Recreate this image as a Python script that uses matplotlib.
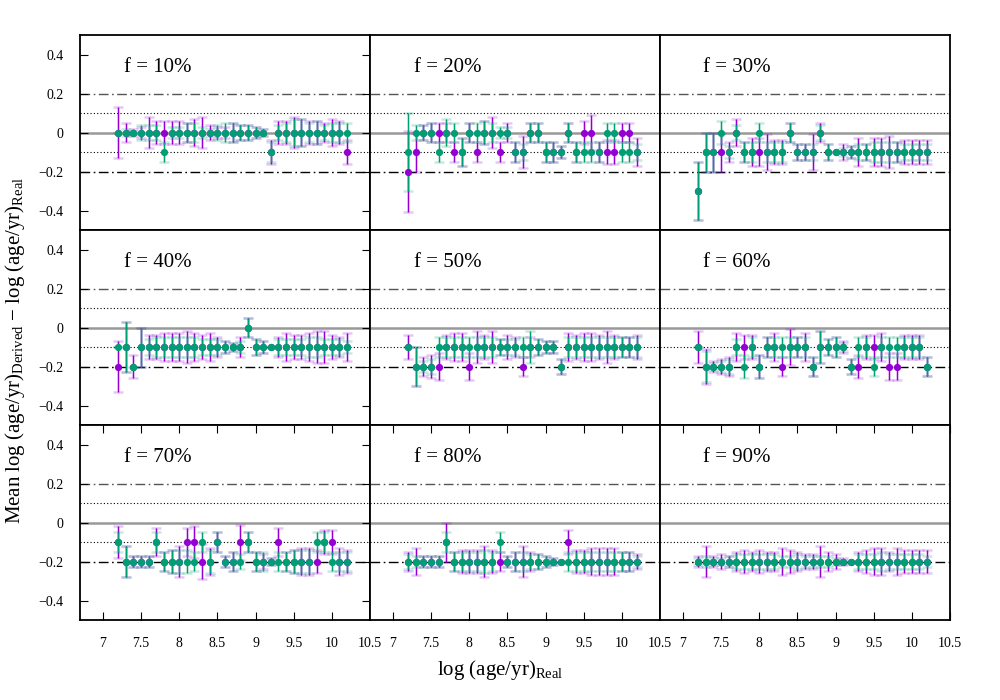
import matplotlib
matplotlib.use("Agg")
import matplotlib.pyplot as plt
import numpy as np

plt.rcParams['font.family'] = ['Liberation Serif', 'DejaVu Serif']
plt.rcParams['mathtext.fontset'] = 'custom'
plt.rcParams['mathtext.rm'] = 'Liberation Serif'

# log(age/yr) real, 7.2 ... 10.2
ages = [7.2, 7.3, 7.4, 7.5, 7.6, 7.7, 7.8, 7.9, 8.0, 8.1, 8.2, 8.3, 8.4, 8.5, 8.6, 8.7,
        8.8, 8.9, 9.0, 9.1, 9.2, 9.3, 9.4, 9.5, 9.6, 9.7, 9.8, 9.9, 10.0, 10.1, 10.2]
fractions = ["10%", "20%", "30%", "40%", "50%", "60%", "70%", "80%", "90%"]

# purple series: mean offsets and errors
p_val_10 = [0, 0, 0, 0, 0, 0, 0, 0, 0, 0, 0, 0, 0, 0, 0, 0, 0, 0, 0, 0, -0.1, 0, 0, 0, 0, 0, 0, 0, 0, 0, -0.1]
p_err_10 = [0.13, 0.05, 0.02, 0.03, 0.08, 0.06, 0.06, 0.06, 0.06, 0.05, 0.07, 0.08, 0.04, 0.03, 0.03, 0.05,
            0.04, 0.04, 0.03, 0.02, 0.06, 0.06, 0.06, 0.08, 0.07, 0.06, 0.06, 0.05, 0.07, 0.06, 0.06]
p_val_20 = [-0.2, -0.1, 0, 0, 0, 0, -0.1, -0.1, 0, -0.1, 0, 0, -0.1, 0, -0.1, -0.1, 0, 0, -0.1, -0.1,
            -0.1, 0, -0.1, 0, 0, -0.1, -0.1, -0.1, 0, 0, -0.1]
p_err_20 = [0.21, 0.1, 0.04, 0.05, 0.05, 0.05, 0.05, 0.07, 0.05, 0.05, 0.06, 0.08, 0.05, 0.05, 0.05, 0.08,
            0.05, 0.05, 0.05, 0.05, 0.03, 0.05, 0.05, 0.06, 0.09, 0.05, 0.06, 0.06, 0.05, 0.05, 0.07]
p_val_30 = [-0.3, -0.1, -0.1, -0.1, -0.1, 0, -0.1, -0.1, -0.1, -0.1, -0.1, -0.1, 0, -0.1, -0.1, -0.1,
            0, -0.1, -0.1, -0.1, -0.1, -0.1, -0.1, -0.1, -0.1, -0.1, -0.1, -0.1, -0.1, -0.1, -0.1]
p_err_30 = [0.15, 0.1, 0.1, 0.1, 0.05, 0.07, 0.05, 0.07, 0.07, 0.09, 0.06, 0.06, 0.05, 0.04, 0.04, 0.09,
            0.05, 0.04, 0.0, 0.04, 0.03, 0.07, 0.04, 0.07, 0.07, 0.08, 0.05, 0.06, 0.06, 0.06, 0.06]
p_val_40 = [-0.2, -0.1, -0.2, -0.1, -0.1, -0.1, -0.1, -0.1, -0.1, -0.1, -0.1, -0.1, -0.1, -0.1, -0.1, -0.1,
            -0.1, 0, -0.1, -0.1, -0.1, -0.1, -0.1, -0.1, -0.1, -0.1, -0.1, -0.1, -0.1, -0.1, -0.1]
p_err_40 = [0.13, 0.13, 0.06, 0.1, 0.06, 0.06, 0.07, 0.07, 0.07, 0.08, 0.07, 0.06, 0.07, 0.05, 0.03, 0.02,
            0.05, 0.05, 0.04, 0.03, 0.0, 0.05, 0.07, 0.06, 0.06, 0.07, 0.08, 0.08, 0.06, 0.05, 0.07]
p_val_50 = [-0.1, -0.2, -0.2, -0.2, -0.2, -0.1, -0.1, -0.1, -0.2, -0.1, -0.1, -0.1, -0.1, -0.1, -0.1, -0.2,
            -0.1, -0.1, -0.1, -0.1, -0.2, -0.1, -0.1, -0.1, -0.1, -0.1, -0.1, -0.1, -0.1, -0.1, -0.1]
p_err_50 = [0.06, 0.1, 0.05, 0.06, 0.07, 0.06, 0.07, 0.07, 0.07, 0.08, 0.06, 0.08, 0.04, 0.06, 0.05, 0.05,
            0.05, 0.04, 0.03, 0.03, 0.04, 0.07, 0.06, 0.07, 0.07, 0.06, 0.08, 0.06, 0.05, 0.05, 0.06]
p_val_60 = [-0.1, -0.2, -0.2, -0.2, -0.2, -0.1, -0.1, -0.1, -0.2, -0.1, -0.1, -0.2, -0.1, -0.1, -0.1, -0.2,
            -0.1, -0.1, -0.1, -0.1, -0.2, -0.2, -0.1, -0.1, -0.1, -0.2, -0.2, -0.1, -0.1, -0.1, -0.2]
p_err_60 = [0.08, 0.09, 0.03, 0.04, 0.05, 0.07, 0.06, 0.06, 0.06, 0.05, 0.07, 0.05, 0.09, 0.05, 0.07, 0.05,
            0.08, 0.04, 0.05, 0.03, 0.04, 0.06, 0.06, 0.06, 0.07, 0.07, 0.07, 0.06, 0.06, 0.06, 0.05]
p_val_70 = [-0.1, -0.2, -0.2, -0.2, -0.2, -0.1, -0.2, -0.2, -0.2, -0.1, -0.1, -0.2, -0.2, -0.1, -0.2, -0.2,
            -0.1, -0.1, -0.2, -0.2, -0.2, -0.1, -0.2, -0.2, -0.2, -0.2, -0.2, -0.1, -0.1, -0.2, -0.2]
p_err_70 = [0.08, 0.08, 0.03, 0.03, 0.03, 0.07, 0.05, 0.06, 0.08, 0.07, 0.08, 0.09, 0.07, 0.05, 0.03, 0.05,
            0.09, 0.05, 0.05, 0.04, 0.02, 0.07, 0.05, 0.06, 0.07, 0.07, 0.06, 0.06, 0.06, 0.07, 0.06]
p_val_80 = [-0.2, -0.2, -0.2, -0.2, -0.2, -0.1, -0.2, -0.2, -0.2, -0.2, -0.2, -0.2, -0.2, -0.2, -0.2, -0.2,
            -0.2, -0.2, -0.2, -0.2, -0.2, -0.1, -0.2, -0.2, -0.2, -0.2, -0.2, -0.2, -0.2, -0.2, -0.2]
p_err_80 = [0.05, 0.07, 0.03, 0.03, 0.03, 0.1, 0.05, 0.06, 0.06, 0.06, 0.08, 0.06, 0.05, 0.03, 0.05, 0.08,
            0.05, 0.04, 0.03, 0.02, 0.0, 0.06, 0.06, 0.06, 0.07, 0.07, 0.07, 0.07, 0.05, 0.05, 0.04]
p_val_90 = [-0.2] * 31
p_err_90 = [0.03, 0.08, 0.03, 0.04, 0.03, 0.05, 0.06, 0.05, 0.06, 0.05, 0.05, 0.07, 0.06, 0.05, 0.04, 0.04,
            0.08, 0.05, 0.04, 0.02, 0.0, 0.05, 0.06, 0.07, 0.07, 0.05, 0.07, 0.06, 0.06, 0.06, 0.06]

# green series
g_val_10 = [0, 0, 0, 0, 0, 0, -0.1, 0, 0, 0, 0, 0, 0, 0, 0, 0, 0, 0, 0, 0, -0.1, 0, 0, 0, 0, 0, 0, 0, 0, 0, 0]
g_err_10 = [0.0, 0.02, 0.01, 0.04, 0.04, 0.04, 0.05, 0.03, 0.03, 0.05, 0.05, 0.03, 0.02, 0.04, 0.05, 0.05,
            0.04, 0.04, 0.03, 0.02, 0.05, 0.04, 0.05, 0.07, 0.07, 0.05, 0.06, 0.04, 0.05, 0.05, 0.05]
g_val_20 = [-0.1, 0, 0, 0, -0.1, 0, 0, -0.1, 0, 0, 0, 0, 0, 0, -0.1, -0.1, 0, 0, -0.1, -0.1,
            -0.1, 0, -0.1, -0.1, -0.1, -0.1, 0, 0, -0.1, -0.1, -0.1]
g_err_20 = [0.2, 0.04, 0.04, 0.05, 0.05, 0.07, 0.05, 0.07, 0.05, 0.05, 0.06, 0.05, 0.03, 0.03, 0.05, 0.04,
            0.05, 0.05, 0.05, 0.05, 0.03, 0.05, 0.05, 0.05, 0.05, 0.05, 0.05, 0.05, 0.05, 0.05, 0.04]
g_val_30 = [-0.3, -0.1, -0.1, 0, -0.1, 0, -0.1, -0.1, 0, -0.1, -0.1, -0.1, 0, -0.1, -0.1, -0.1,
            0, -0.1, -0.1, -0.1, -0.1, -0.1, -0.1, -0.1, -0.1, -0.1, -0.1, -0.1, -0.1, -0.1, -0.1]
g_err_30 = [0.15, 0.1, 0.1, 0.06, 0.03, 0.04, 0.05, 0.05, 0.05, 0.05, 0.05, 0.05, 0.05, 0.04, 0.04, 0.04,
            0.04, 0.04, 0.0, 0.02, 0.03, 0.04, 0.04, 0.05, 0.05, 0.05, 0.05, 0.04, 0.04, 0.04, 0.04]
g_val_40 = [-0.1, -0.1, -0.2, -0.1, -0.1, -0.1, -0.1, -0.1, -0.1, -0.1, -0.1, -0.1, -0.1, -0.1, -0.1, -0.1,
            -0.1, 0, -0.1, -0.1, -0.1, -0.1, -0.1, -0.1, -0.1, -0.1, -0.1, -0.1, -0.1, -0.1, -0.1]
g_err_40 = [0.0, 0.13, 0.0, 0.1, 0.04, 0.05, 0.05, 0.05, 0.05, 0.05, 0.05, 0.04, 0.04, 0.04, 0.03, 0.02,
            0.03, 0.05, 0.04, 0.03, 0.0, 0.04, 0.04, 0.04, 0.04, 0.05, 0.05, 0.04, 0.04, 0.04, 0.03]
g_val_50 = [-0.1, -0.2, -0.2, -0.2, -0.1, -0.1, -0.1, -0.1, -0.1, -0.1, -0.1, -0.1, -0.1, -0.1, -0.1, -0.1,
            -0.1, -0.1, -0.1, -0.1, -0.2, -0.1, -0.1, -0.1, -0.1, -0.1, -0.1, -0.1, -0.1, -0.1, -0.1]
g_err_50 = [0.0, 0.1, 0.03, 0.04, 0.05, 0.05, 0.05, 0.05, 0.05, 0.05, 0.05, 0.05, 0.04, 0.04, 0.04, 0.05,
            0.08, 0.04, 0.03, 0.03, 0.04, 0.05, 0.05, 0.05, 0.05, 0.05, 0.05, 0.05, 0.05, 0.05, 0.05]
g_val_60 = [-0.1, -0.2, -0.2, -0.2, -0.2, -0.1, -0.2, -0.1, -0.2, -0.1, -0.1, -0.1, -0.1, -0.1, -0.1, -0.2,
            -0.1, -0.1, -0.1, -0.1, -0.2, -0.1, -0.1, -0.2, -0.1, -0.1, -0.1, -0.1, -0.1, -0.1, -0.2]
g_err_60 = [0.0, 0.08, 0.02, 0.03, 0.04, 0.04, 0.06, 0.05, 0.06, 0.05, 0.05, 0.05, 0.05, 0.05, 0.05, 0.05,
            0.08, 0.04, 0.05, 0.02, 0.04, 0.05, 0.05, 0.05, 0.05, 0.05, 0.05, 0.05, 0.05, 0.05, 0.05]
g_val_70 = [-0.1, -0.2, -0.2, -0.2, -0.2, -0.1, -0.2, -0.2, -0.2, -0.2, -0.2, -0.1, -0.2, -0.1, -0.2, -0.2,
            -0.2, -0.1, -0.2, -0.2, -0.2, -0.2, -0.2, -0.2, -0.2, -0.2, -0.1, -0.1, -0.2, -0.2, -0.2]
g_err_70 = [0.05, 0.08, 0.03, 0.03, 0.03, 0.05, 0.05, 0.06, 0.06, 0.06, 0.05, 0.05, 0.06, 0.05, 0.03, 0.05,
            0.04, 0.05, 0.05, 0.05, 0.02, 0.05, 0.05, 0.06, 0.06, 0.06, 0.05, 0.05, 0.05, 0.05, 0.05]
g_val_80 = [-0.2, -0.2, -0.2, -0.2, -0.2, -0.1, -0.2, -0.2, -0.2, -0.2, -0.2, -0.2, -0.1, -0.2, -0.2, -0.2,
            -0.2, -0.2, -0.2, -0.2, -0.2, -0.2, -0.2, -0.2, -0.2, -0.2, -0.2, -0.2, -0.2, -0.2, -0.2]
g_err_80 = [0.04, 0.03, 0.03, 0.03, 0.03, 0.05, 0.05, 0.05, 0.05, 0.05, 0.06, 0.05, 0.05, 0.03, 0.05, 0.05,
            0.04, 0.04, 0.03, 0.02, 0.0, 0.05, 0.05, 0.05, 0.05, 0.05, 0.05, 0.05, 0.05, 0.05, 0.03]
g_val_90 = [-0.2] * 31
g_err_90 = [0.02, 0.03, 0.02, 0.02, 0.03, 0.04, 0.04, 0.04, 0.04, 0.04, 0.04, 0.03, 0.03, 0.04, 0.03, 0.03,
            0.03, 0.03, 0.02, 0.01, 0.0, 0.04, 0.04, 0.04, 0.05, 0.04, 0.04, 0.04, 0.04, 0.04, 0.03]

purple_vals = [p_val_10, p_val_20, p_val_30, p_val_40, p_val_50, p_val_60, p_val_70, p_val_80, p_val_90]
purple_errs = [p_err_10, p_err_20, p_err_30, p_err_40, p_err_50, p_err_60, p_err_70, p_err_80, p_err_90]
green_vals = [g_val_10, g_val_20, g_val_30, g_val_40, g_val_50, g_val_60, g_val_70, g_val_80, g_val_90]
green_errs = [g_err_10, g_err_20, g_err_30, g_err_40, g_err_50, g_err_60, g_err_70, g_err_80, g_err_90]

purple = "#9400D3"
green = "#009E73"
dashdot = (0, (7, 2.5, 1.2, 2.5))

fig = plt.figure(figsize=(10, 7), dpi=100)

left, top = 0.08, 0.95
w, h = 0.29, 0.2786

for k in range(9):
    row, col = k // 3, k % 3
    ax = fig.add_axes([left + col * w, top - (row + 1) * h, w, h])

    ax.axhline(0, color="#999999", lw=1.8, zorder=1)
    ax.axhline(0.1, color="black", lw=0.8, ls=(0, (1, 2)), zorder=1)
    ax.axhline(-0.1, color="black", lw=0.8, ls=(0, (1, 2)), zorder=1)
    ax.axhline(0.2, color="#555555", lw=1.0, ls=dashdot, zorder=1)
    ax.axhline(-0.2, color="black", lw=1.0, ls=dashdot, zorder=1)

    for vals, errs, c in [(purple_vals[k], purple_errs[k], purple), (green_vals[k], green_errs[k], green)]:
        # light halo, then thin bars and dots
        ax.errorbar(ages, vals, yerr=errs, fmt="none", ecolor=c, elinewidth=1.8,
                    capsize=3.5, capthick=1.8, alpha=0.22, zorder=2)
        ax.errorbar(ages, vals, yerr=errs, fmt="o", color=c, ecolor=c, elinewidth=0.9,
                    capsize=3.5, capthick=0.9, markersize=5.2, markeredgewidth=0, zorder=3)

    ax.set_xlim(6.7, 10.5)
    ax.set_ylim(-0.5, 0.5)
    ax.text(0.15, 0.835, "f = " + fractions[k], transform=ax.transAxes,
            fontsize=15, va="center", ha="left")

    for sp in ax.spines.values():
        sp.set_linewidth(1.3)

    ax.set_xticks([7, 7.5, 8, 8.5, 9, 9.5, 10, 10.5])
    ax.set_xticklabels(["7", "7.5", "8", "8.5", "9", "9.5", "10", "10.5"])
    ax.set_yticks([-0.4, -0.2, 0, 0.2, 0.4])
    ax.set_yticklabels(["\u22120.4", "\u22120.2", "0", "0.2", "0.4"])

    ax.tick_params(axis="both", direction="in", labelsize=10, length=6, width=0.8, pad=12)
    if row == 2:
        ax.tick_params(axis="x", top=True, bottom=True, labelbottom=True)
    else:
        ax.tick_params(axis="x", top=False, bottom=False, labelbottom=False)
    if col == 0:
        ax.tick_params(axis="y", left=True, right=True, labelleft=True)
    else:
        ax.tick_params(axis="y", left=False, right=False, labelleft=False)

fig.text(0.5, 0.043, r"log (age/yr)$_{\mathrm{Real}}$", ha="center", va="center", fontsize=15)
fig.text(0.015, 0.5, r"Mean log (age/yr)$_{\mathrm{Derived}}$ $-$ log (age/yr)$_{\mathrm{Real}}$",
         ha="center", va="center", rotation=90, fontsize=15)

fig.savefig("out.png", dpi=100)
